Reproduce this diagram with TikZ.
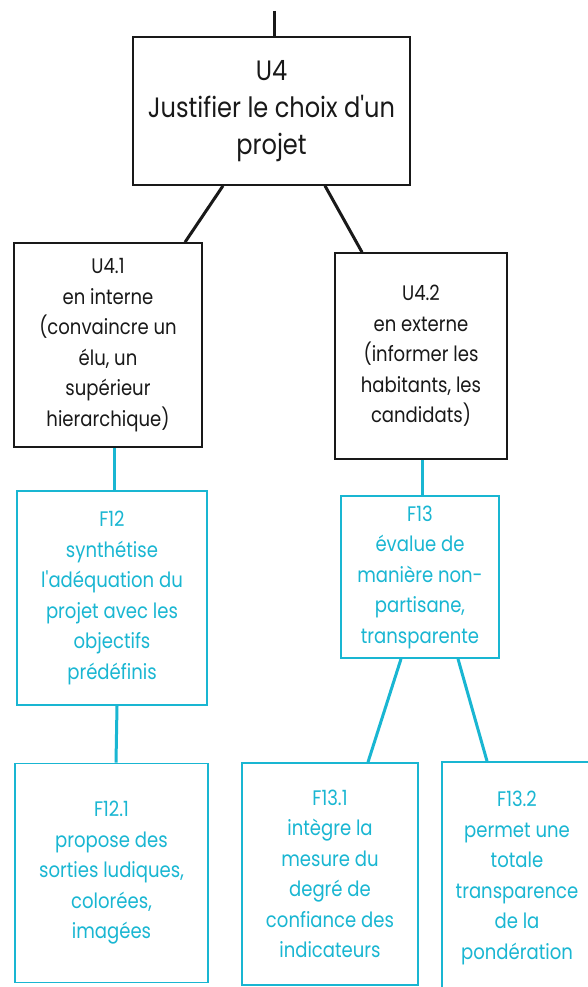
\documentclass[tikz,border=0pt]{standalone}
\usepackage{fontspec}
\setmainfont{Poppins}[Ligatures=TeXOff,FakeStretch=0.86]
\definecolor{cyanc}{RGB}{25,182,210}
\definecolor{blk}{RGB}{25,25,25}
\begin{document}
\begin{tikzpicture}[x=1pt,y=-1pt,
  bbox/.style={draw=blk,line width=1.6pt,align=center,inner sep=0pt,text=blk},
  cbox/.style={draw=cyanc,line width=1.8pt,align=center,inner sep=0pt,text=cyanc},
  small/.style={font=\fontsize{21}{30.5}\selectfont},
  big/.style={font=\fontsize{28}{37}\selectfont},
  bline/.style={draw=blk,line width=3pt},
  cline/.style={draw=cyanc,line width=3pt}]
\useasboundingbox (0,0) rectangle (587,987);
\fill[white] (0,0) rectangle (587,987);
% black boxes
\node[bbox,big,minimum width=277pt,minimum height=148pt] (u4) at (271.5,111)
  {U4\\Justifier le choix d'un\\projet};
\node[bbox,small,minimum width=188pt,minimum height=204pt] (u41) at (108,345)
  {U4.1\\en interne\\(convaincre un\\élu, un\\supérieur\\hierarchique)};
\node[bbox,small,minimum width=172pt,minimum height=206pt] (u42) at (421,356)
  {U4.2\\en externe\\(informer les\\habitants, les\\candidats)};
% cyan boxes
\node[cbox,small,minimum width=190pt,minimum height=214pt] (f12) at (112,598)
  {F12\\synthétise\\l'adéquation du\\projet avec les\\objectifs\\prédéfinis};
\node[cbox,small,minimum width=158pt,minimum height=162pt] (f13) at (420,577)
  {F13\\évalue de\\manière non-\\partisane,\\transparente};
\node[cbox,small,minimum width=193pt,minimum height=219pt] (f121) at (111.5,873)
  {F12.1\\propose des\\sorties ludiques,\\colorées,\\imagées};
\node[cbox,small,minimum width=176pt,minimum height=222pt] (f131) at (330,874)
  {F13.1\\intègre la\\mesure du\\degré de\\confiance des\\indicateurs};
\node[cbox,small,minimum width=150pt,minimum height=232pt] (f132) at (517,878)
  {F13.2\\permet une\\totale\\transparence\\de la\\pondération};
% connectors
\coordinate (top) at (274,11);
\draw[bline] (top) -- ([xshift=2.5pt]u4.north);
\draw[bline] ([xshift=-48.5pt]u4.south) -- ([xshift=77pt]u41.north);
\draw[bline] ([xshift=53.5pt]u4.south) -- ([xshift=-59pt]u42.north);
\draw[cline] ([xshift=6pt]u41.south) -- ([xshift=2pt]f12.north);
\draw[cline] ([xshift=1pt]u42.south) -- ([xshift=2pt]f13.north);
\draw[cline] ([xshift=5pt]f12.south) -- ([xshift=4.5pt]f121.north);
\draw[cline] ([xshift=-19pt]f13.south) -- ([xshift=38pt]f131.north);
\draw[cline] ([xshift=38pt]f13.south) -- ([xshift=-30pt]f132.north);
\end{tikzpicture}
\end{document}
